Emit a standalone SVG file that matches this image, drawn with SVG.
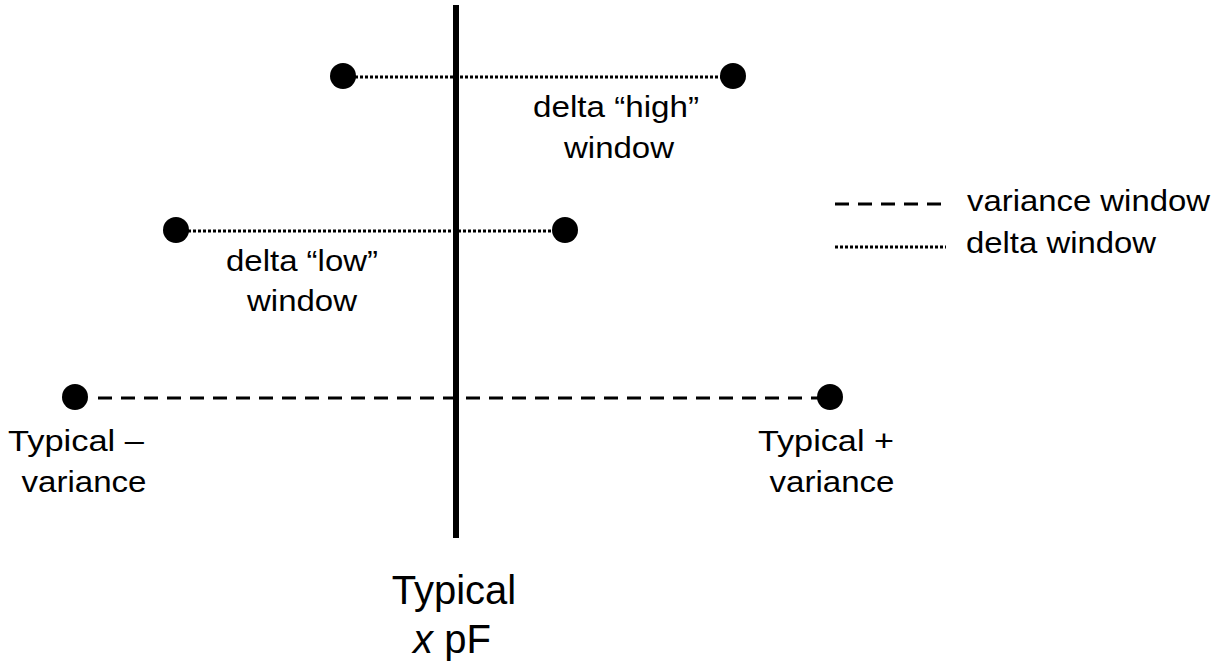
<svg xmlns="http://www.w3.org/2000/svg" width="1228" height="664" viewBox="0 0 1228 664">
<style>
.t{font-family:"Liberation Sans",Arial,sans-serif;font-size:30px;fill:#000}
.big{font-family:"Liberation Sans",Arial,sans-serif;font-size:40px;fill:#000}
.dot{fill:#000}
.dotted{stroke:#000;stroke-width:3;stroke-dasharray:3 2;fill:none}
.dashed{stroke:#000;stroke-width:3;stroke-dasharray:14 9;fill:none}
</style>
<rect width="1228" height="664" fill="#fff"/>
<g id="connectors">
<line class="dotted" x1="355" y1="77" x2="721" y2="77"/>
<line class="dotted" x1="188" y1="231" x2="553" y2="231"/>
<line class="dashed" x1="98" y1="398" x2="818" y2="398"/>
</g>
<g id="axis"><line x1="456" y1="5" x2="456" y2="538" stroke="#000" stroke-width="6"/></g>
<g id="high-left"><circle class="dot" cx="343" cy="76" r="13"/></g>
<g id="high-right"><circle class="dot" cx="733" cy="76" r="13"/></g>
<g id="low-left"><circle class="dot" cx="176" cy="230" r="13"/></g>
<g id="low-right"><circle class="dot" cx="565" cy="230" r="13"/></g>
<g id="var-left"><circle class="dot" cx="75" cy="397" r="13"/></g>
<g id="var-right"><circle class="dot" cx="830" cy="397" r="13"/></g>
<g id="label-high">
<text class="t" x="616" y="117" text-anchor="middle" textLength="166" lengthAdjust="spacingAndGlyphs">delta “high”</text>
<text class="t" x="619" y="158" text-anchor="middle" textLength="110" lengthAdjust="spacingAndGlyphs">window</text>
</g>
<g id="label-low">
<text class="t" x="302" y="271" text-anchor="middle" textLength="152" lengthAdjust="spacingAndGlyphs">delta “low”</text>
<text class="t" x="302" y="311" text-anchor="middle" textLength="110" lengthAdjust="spacingAndGlyphs">window</text>
</g>
<g id="label-minus">
<text class="t" x="8" y="451" textLength="136" lengthAdjust="spacingAndGlyphs">Typical –</text>
<text class="t" x="84" y="492" text-anchor="middle" textLength="125" lengthAdjust="spacingAndGlyphs">variance</text>
</g>
<g id="label-plus">
<text class="t" x="826" y="451" text-anchor="middle" textLength="136" lengthAdjust="spacingAndGlyphs">Typical +</text>
<text class="t" x="832" y="492" text-anchor="middle" textLength="125" lengthAdjust="spacingAndGlyphs">variance</text>
</g>
<g id="label-typical">
<text class="big" x="454" y="604" text-anchor="middle">Typical</text>
<text class="big" x="452" y="653" text-anchor="middle"><tspan font-style="italic">x</tspan> pF</text>
</g>
<g id="legend">
<line class="dashed" x1="835" y1="204" x2="947" y2="204" stroke-dasharray="14 10"/>
<text class="t" x="967" y="211" textLength="243" lengthAdjust="spacingAndGlyphs">variance window</text>
<line class="dotted" x1="835" y1="247" x2="946" y2="247" stroke-dasharray="2 2"/>
<text class="t" x="966" y="253" textLength="190" lengthAdjust="spacingAndGlyphs">delta window</text>
</g>
</svg>
